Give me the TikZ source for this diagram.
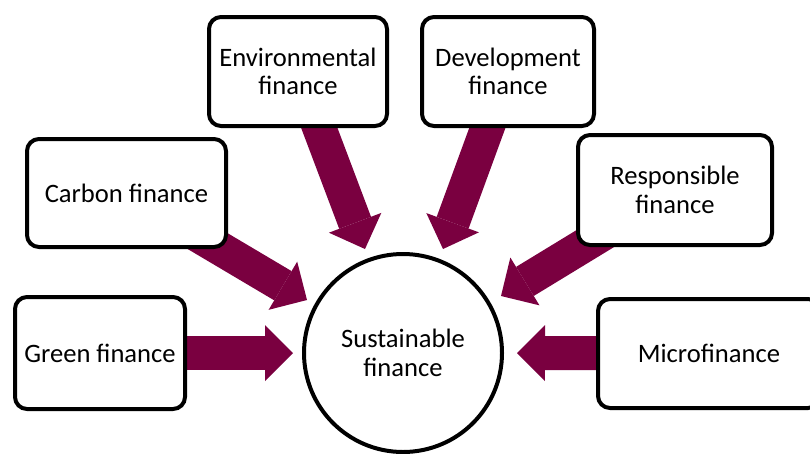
\documentclass[tikz,border=0pt]{standalone}
\usepackage{fontspec}
\setmainfont{Carlito}
\usetikzlibrary{arrows.meta,backgrounds}
\definecolor{arrowred}{RGB}{122,0,64}
\tikzset{
  box/.style={draw=black, line width=4pt, rounded corners=12pt, fill=white,
    align=center, inner sep=0pt, outer sep=0pt, font=\fontsize{26.6}{28.5}\selectfont},
  hub/.style={draw=black, line width=4pt, circle, fill=white, minimum size=198pt,
    align=center, inner sep=0pt, outer sep=0pt, font=\fontsize{26.6}{28.5}\selectfont},
  blockarrow/.style={draw=arrowred, line width=34pt, line cap=butt,
    -{Triangle[length=28pt,width=56pt,line width=0pt]}}
}
\begin{document}
\begin{tikzpicture}[x=1pt,y=-1pt]
\clip (0,0) rectangle (810,453);
\useasboundingbox (0,0) rectangle (810,453);
\node[box, minimum width=170pt, minimum height=112pt] (green) at (100,353) {Green finance};
\node[box, minimum width=199pt, minimum height=108pt] (carbon) at (126.5,193) {Carbon finance};
\node[box, minimum width=178pt, minimum height=109pt] (env) at (298,71.5) {Environmental\\finance};
\node[box, minimum width=172pt, minimum height=109pt] (dev) at (508,71.5) {Development\\finance};
\node[box, minimum width=194pt, minimum height=110pt] (resp) at (675,190) {Responsible\\finance};
\node[box, minimum width=222pt, minimum height=109pt] (micro) at (709,353.5) {Microfinance};
\node[hub] (sust) at (403,353) {Sustainable\\finance};
\coordinate (tG) at (293,353);
\coordinate (tM) at (517,353);
\coordinate (tC) at (307,300);
\coordinate (tR) at (501,296);
\coordinate (tE) at (365,249);
\coordinate (tD) at (443,249);
\begin{pgfonlayer}{background}
\draw[blockarrow] (green.center) -- (tG);
\draw[blockarrow] (micro.center) -- (tM);
\draw[blockarrow] (carbon.center) -- (tC);
\draw[blockarrow] (resp.center) -- (tR);
\draw[blockarrow] (env.center) -- (tE);
\draw[blockarrow] (dev.center) -- (tD);
\end{pgfonlayer}
\end{tikzpicture}
\end{document}
